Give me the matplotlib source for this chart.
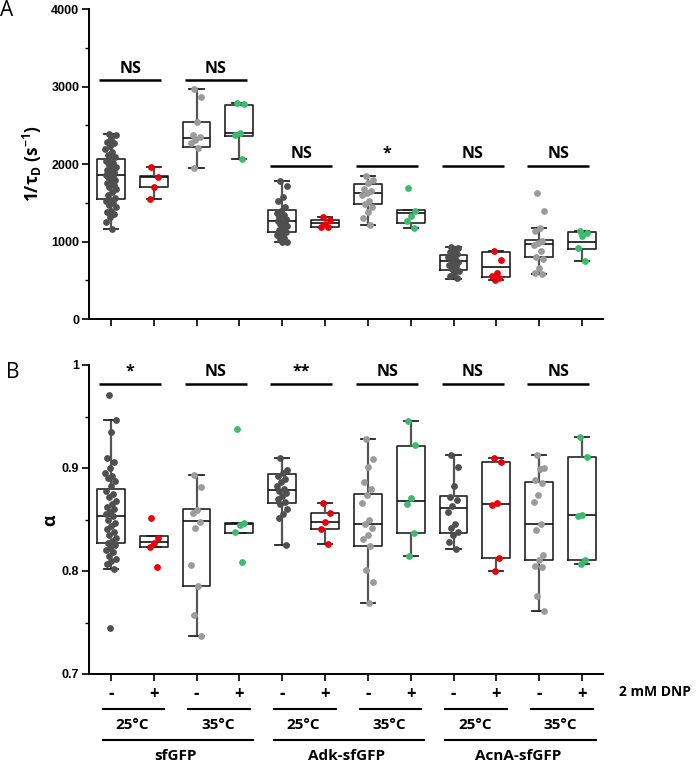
import matplotlib
matplotlib.use("Agg")
import matplotlib.pyplot as plt
from matplotlib.transforms import blended_transform_factory

plt.rcParams['font.family'] = ['Open Sans', 'DejaVu Sans']
plt.rcParams['mathtext.fontset'] = 'custom'
plt.rcParams['mathtext.rm'] = 'Open Sans:bold'
plt.rcParams['mathtext.it'] = 'Open Sans:bold'
plt.rcParams['mathtext.bf'] = 'Open Sans:bold'

# ---------------- data ----------------
positions = list(range(1, 13))
dnp_labels = ['-', '+'] * 6
temp_labels = ['25°C', '35°C'] * 3
protein_labels = ['sfGFP', 'Adk-sfGFP', 'AcnA-sfGFP']
point_colors = ['#4f4f4f', '#e8000b', '#9b9b9b', '#3dbb6d'] * 3

# Panel A: 1/tau_D (s^-1)
tauD_pts = [
    [2383, 2370, 2330, 2290, 2270, 2230, 2200, 2160, 2120, 2090, 2060, 2040, 2010, 1990,
     1960, 1940, 1920, 1900, 1880, 1860, 1850, 1830, 1800, 1780, 1760, 1730, 1700, 1680,
     1640, 1600, 1560, 1540, 1520, 1500, 1470, 1440, 1400, 1380, 1350, 1320, 1250, 1157],
    [1957, 1837, 1707, 1544],
    [2963, 2860, 2540, 2380, 2350, 2310, 2270, 2210, 1953],
    [2790, 2770, 2400, 2370, 2069],
    [1781, 1720, 1580, 1520, 1450, 1400, 1370, 1340, 1310, 1290, 1270, 1260, 1240, 1220,
     1200, 1180, 1150, 1120, 1100, 1080, 1050, 1030, 1000, 990],
    [1310, 1280, 1230, 1190, 1185],
    [1849, 1800, 1760, 1680, 1650, 1620, 1600, 1520, 1490, 1440, 1380, 1300, 1209],
    [1690, 1400, 1330, 1260, 1170],
    [929, 920, 900, 870, 840, 820, 800, 780, 760, 740, 720, 700, 680, 650, 620, 590, 560, 530],
    [875, 760, 600, 560, 530, 505],
    [1620, 1390, 1170, 1130, 1010, 980, 950, 880, 800, 770, 660, 600, 581],
    [1130, 1115, 1070, 915, 744],
]
tauD_q1 = [1544, 1707, 2219, 2357, 1127, 1183, 1484, 1243, 628, 542, 796, 907]
tauD_med = [1858, 1830, 2335, 2396, 1265, 1234, 1630, 1363, 744, 675, 972, 989]
tauD_q3 = [2065, 1849, 2538, 2761, 1406, 1277, 1746, 1411, 822, 860, 1019, 1118]
tauD_lo = [1157, 1544, 1953, 2069, 989, 1183, 1209, 1170, 520, 508, 581, 744]
tauD_hi = [2383, 1957, 2963, 2783, 1781, 1312, 1849, 1411, 929, 872, 1170, 1130]
tauD_sig = ['NS', 'NS', 'NS', '*', 'NS', 'NS']
tauD_sig_y = [3080, 3080, 1980, 1980, 1980, 1980]

# Panel B: alpha
alpha_pts = [
    [0.971, 0.947, 0.935, 0.910, 0.906, 0.900, 0.895, 0.892, 0.890, 0.887, 0.883, 0.878,
     0.875, 0.872, 0.868, 0.865, 0.862, 0.860, 0.857, 0.855, 0.853, 0.850, 0.847, 0.844,
     0.841, 0.838, 0.835, 0.832, 0.829, 0.827, 0.825, 0.822, 0.820, 0.818, 0.815, 0.812,
     0.810, 0.807, 0.802, 0.745],
    [0.851, 0.832, 0.827, 0.823, 0.804],
    [0.893, 0.882, 0.859, 0.856, 0.848, 0.842, 0.806, 0.785, 0.757, 0.737],
    [0.938, 0.847, 0.845, 0.838, 0.809],
    [0.910, 0.898, 0.895, 0.892, 0.889, 0.886, 0.883, 0.880, 0.878, 0.876, 0.873, 0.870,
     0.867, 0.865, 0.860, 0.855, 0.851, 0.825],
    [0.866, 0.856, 0.848, 0.841, 0.826],
    [0.928, 0.909, 0.901, 0.886, 0.880, 0.874, 0.866, 0.850, 0.846, 0.842, 0.835, 0.831,
     0.824, 0.801, 0.789, 0.769],
    [0.946, 0.922, 0.871, 0.865, 0.837, 0.815],
    [0.913, 0.901, 0.883, 0.872, 0.869, 0.863, 0.857, 0.846, 0.842, 0.838, 0.835, 0.828, 0.821],
    [0.910, 0.906, 0.866, 0.864, 0.813, 0.800],
    [0.913, 0.900, 0.899, 0.888, 0.885, 0.874, 0.867, 0.846, 0.840, 0.816, 0.811, 0.805,
     0.804, 0.776, 0.761],
    [0.930, 0.911, 0.854, 0.853, 0.811, 0.8065],
]
alpha_q1 = [0.827, 0.8235, 0.785, 0.837, 0.866, 0.841, 0.8245, 0.8365, 0.8365, 0.813, 0.811, 0.811]
alpha_med = [0.853, 0.828, 0.849, 0.846, 0.879, 0.848, 0.8455, 0.8677, 0.8616, 0.865, 0.846, 0.854]
alpha_q3 = [0.880, 0.8335, 0.860, 0.847, 0.894, 0.856, 0.8745, 0.9216, 0.873, 0.9055, 0.8865, 0.9106]
alpha_lo = [0.802, 0.8235, 0.737, 0.837, 0.825, 0.826, 0.769, 0.815, 0.821, 0.800, 0.761, 0.8065]
alpha_hi = [0.947, 0.8335, 0.893, 0.847, 0.910, 0.866, 0.928, 0.946, 0.913, 0.910, 0.913, 0.930]
alpha_sig = ['*', 'NS', '**', 'NS', 'NS', 'NS']
alpha_sig_y = [0.982] * 6

# ---------------- figure ----------------
W, H = 699, 762
fig = plt.figure(figsize=(W / 100, H / 100), dpi=100)
ax1 = fig.add_axes([89 / W, 1 - 319 / H, (603 - 89) / W, (319 - 9) / H])
ax2 = fig.add_axes([89 / W, 1 - 674 / H, (603 - 89) / W, (674 - 365) / H])


def draw_panel(ax, pts, q1, med, q3, lo, hi):
    stats = []
    for i in range(len(pts)):
        stats.append(dict(med=med[i], q1=q1[i], q3=q3[i], whislo=lo[i], whishi=hi[i], fliers=[]))
    ax.bxp(stats, positions=positions, widths=0.65, capwidths=0.33, showfliers=False,
           boxprops=dict(color='#222222', lw=1.2),
           medianprops=dict(color='#111111', lw=1.2),
           whiskerprops=dict(color='#555555', lw=1.6),
           capprops=dict(color='#222222', lw=1.3),
           manage_ticks=False)
    for i, vals in enumerate(pts):
        n = len(vals)
        xs = [positions[i] + 0.13 * (((k * 0.6180339 + 0.3) % 1.0) * 2 - 1) for k in range(n)]
        ax.scatter(xs, vals, s=24, color=point_colors[i], zorder=5, linewidths=0)


def style_axis(ax):
    for s in ['top', 'right']:
        ax.spines[s].set_visible(False)
    for s in ['left', 'bottom']:
        ax.spines[s].set_linewidth(1.4)
    ax.set_xlim(0.49, 12.49)
    ax.set_xticks(positions)
    ax.set_xticklabels([])
    ax.tick_params(axis='x', direction='out', length=5, width=1.2)
    ax.tick_params(axis='y', which='major', direction='out', length=5, width=1.2, pad=2)
    ax.tick_params(axis='y', which='minor', direction='out', length=3, width=1.0)
    for lab in ax.get_yticklabels():
        lab.set_fontfamily('Liberation Sans')
        lab.set_fontweight('bold')
        lab.set_fontsize(9)


draw_panel(ax1, tauD_pts, tauD_q1, tauD_med, tauD_q3, tauD_lo, tauD_hi)
ax1.set_ylim(0, 4000)
ax1.set_yticks([0, 1000, 2000, 3000, 4000])
ax1.set_yticks([500, 1500, 2500, 3500], minor=True)
ax1.set_yticklabels(['0', '1000', '2000', '3000', '4000'])
style_axis(ax1)

draw_panel(ax2, alpha_pts, alpha_q1, alpha_med, alpha_q3, alpha_lo, alpha_hi)
ax2.set_ylim(0.7, 1.0)
ax2.set_yticks([0.7, 0.8, 0.9, 1.0])
ax2.set_yticks([0.75, 0.85, 0.95], minor=True)
ax2.set_yticklabels(['0.7', '0.8', '0.9', '1'])
style_axis(ax2)

# significance bars
for ax, sig, ys, off in [(ax1, tauD_sig, tauD_sig_y, 100), (ax2, alpha_sig, alpha_sig_y, 0.0075)]:
    for j, (s, y) in enumerate(zip(sig, ys)):
        p = positions[2 * j]
        ax.plot([p - 0.28, p + 1.17], [y, y], color='black', lw=1.8, solid_capstyle='butt')
        ax.text(p + 0.45, y + off, s, ha='center', va='baseline', fontsize=11.5,
                fontweight='bold')

# axis labels
fig.text(32 / W, 1 - 164 / H, r'1/τ$_\mathrm{D}$ (s$^\mathrm{-1}$)', rotation=90,
         ha='center', va='center', fontsize=12.5, fontweight='bold')
fig.text(50 / W, 1 - 520 / H, 'α', rotation=90, ha='center', va='center',
         fontsize=13, fontweight='bold')
fig.text(0 / W, 1 - 11 / H, 'A', ha='left', va='center', fontsize=15)
fig.text(6 / W, 1 - 373 / H, 'B', ha='left', va='center', fontsize=15)

# category labels under bottom axis
tr = blended_transform_factory(ax2.transData, fig.transFigure)
for i, p in enumerate(positions):
    ax2.text(p, 1 - 694 / H, dnp_labels[i], transform=tr, ha='center', va='center',
             fontsize=12, fontweight='bold')
fig.text(619 / W, 1 - 692 / H, '2 mM DNP', ha='left', va='center', fontsize=10,
         fontweight='bold')
for j, t in enumerate(temp_labels):
    p = positions[2 * j]
    ax2.plot([p - 0.19, p + 1.25], [1 - 709 / H] * 2, transform=tr, color='black',
             lw=1.5, clip_on=False)
    ax2.text(p + 0.5, 1 - 725 / H, t, transform=tr, ha='center', va='center',
             fontsize=11, fontweight='bold')
for j, t in enumerate(protein_labels):
    p = positions[4 * j]
    ax2.plot([p - 0.19, p + 3.32], [1 - 740 / H] * 2, transform=tr, color='black',
             lw=1.5, clip_on=False)
    ax2.text(p + 1.5, 1 - 756 / H, t, transform=tr, ha='center', va='center',
             fontsize=11, fontweight='bold')

fig.savefig('out.png', dpi=100)
